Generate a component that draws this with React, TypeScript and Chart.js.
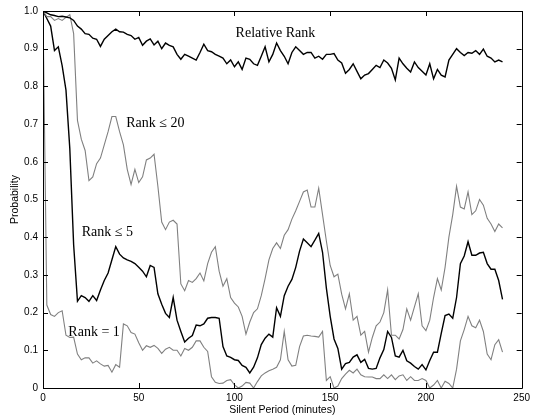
import React, { useEffect, useRef } from "react";
import { Chart, registerables } from "chart.js";

Chart.register(...registerables);

// sample times (minutes), every 2 minutes from 0 to 240
const TIME_STEP = 2;

const relativeRank = [
  1.0, 0.995, 0.99, 0.988, 0.985, 0.986, 0.984, 0.982, 0.975, 0.96,
  0.952, 0.94, 0.938, 0.928, 0.925, 0.906, 0.925, 0.935, 0.945, 0.952,
  0.945, 0.944, 0.938, 0.935, 0.925, 0.93, 0.909, 0.92, 0.926, 0.91,
  0.92, 0.9, 0.915, 0.909, 0.905, 0.885, 0.872, 0.885, 0.88, 0.875,
  0.87, 0.89, 0.912, 0.895, 0.892, 0.885, 0.88, 0.875, 0.86, 0.87,
  0.852, 0.865, 0.845, 0.875, 0.872, 0.86, 0.856, 0.88, 0.905, 0.865,
  0.885, 0.915, 0.895, 0.88, 0.86, 0.89, 0.905, 0.895, 0.885, 0.89,
  0.89, 0.875, 0.88, 0.872, 0.885, 0.885, 0.887, 0.87, 0.862, 0.835,
  0.845, 0.86, 0.84, 0.82, 0.83, 0.834, 0.845, 0.856, 0.85, 0.87,
  0.862, 0.848, 0.817, 0.875, 0.86, 0.848, 0.838, 0.865, 0.85, 0.84,
  0.83, 0.86, 0.82, 0.845, 0.83, 0.825, 0.87, 0.885, 0.9, 0.89,
  0.882, 0.89, 0.888, 0.895, 0.885, 0.899, 0.88, 0.875, 0.865, 0.87,
  0.865,
];

const rankLe20 = [
  1.0, 0.985, 0.985, 0.975, 0.98, 0.975, 0.983, 0.99, 0.94, 0.71,
  0.66, 0.63, 0.55, 0.56, 0.595, 0.61, 0.645, 0.68, 0.72, 0.72,
  0.68, 0.645, 0.58, 0.54, 0.58, 0.545, 0.56, 0.605, 0.61, 0.62,
  0.535, 0.44, 0.42, 0.44, 0.445, 0.435, 0.276, 0.258, 0.285, 0.28,
  0.29, 0.305, 0.284, 0.33, 0.36, 0.375, 0.31, 0.27, 0.29, 0.24,
  0.225, 0.215, 0.19, 0.143, 0.175, 0.2, 0.21, 0.245, 0.29, 0.34,
  0.37, 0.385, 0.37, 0.405, 0.42, 0.448, 0.47, 0.495, 0.52, 0.525,
  0.48, 0.48, 0.53, 0.46, 0.39, 0.325, 0.295, 0.302, 0.249, 0.21,
  0.25, 0.18, 0.19, 0.14, 0.15, 0.095, 0.134, 0.165, 0.175, 0.2,
  0.26, 0.14, 0.14, 0.13, 0.155, 0.21, 0.18, 0.215, 0.25, 0.165,
  0.152, 0.18, 0.24, 0.29, 0.26, 0.32, 0.4, 0.46, 0.535, 0.48,
  0.475, 0.52, 0.46, 0.47, 0.5, 0.485, 0.45, 0.435, 0.415, 0.435,
  0.425,
];

const rankLe5 = [
  1.0, 0.98, 0.96, 0.895, 0.905, 0.855, 0.79, 0.635, 0.38, 0.23,
  0.245, 0.24, 0.23, 0.245, 0.232, 0.26, 0.285, 0.305, 0.34, 0.375,
  0.355, 0.345, 0.34, 0.336, 0.33, 0.32, 0.31, 0.295, 0.325, 0.32,
  0.25, 0.222, 0.198, 0.187, 0.24, 0.18, 0.15, 0.122, 0.132, 0.139,
  0.167, 0.165, 0.17, 0.185, 0.187, 0.187, 0.185, 0.11, 0.085, 0.081,
  0.075, 0.073, 0.06, 0.055, 0.04, 0.055, 0.08, 0.115, 0.132, 0.143,
  0.135, 0.213, 0.19, 0.245, 0.27, 0.288, 0.32, 0.363, 0.395, 0.385,
  0.375, 0.392, 0.41, 0.36, 0.265, 0.19, 0.13, 0.105, 0.05, 0.065,
  0.068, 0.082, 0.088, 0.068, 0.076, 0.052, 0.05, 0.052, 0.08, 0.102,
  0.15, 0.134, 0.085, 0.082, 0.1, 0.072, 0.066, 0.057, 0.05, 0.062,
  0.048, 0.073, 0.095, 0.095, 0.145, 0.192, 0.196, 0.185, 0.24, 0.33,
  0.35, 0.388, 0.352, 0.352, 0.358, 0.36, 0.33, 0.315, 0.315, 0.285,
  0.235,
];

const rankEq1 = [
  1.0, 0.22, 0.195, 0.19, 0.2, 0.205, 0.14, 0.134, 0.135, 0.09,
  0.075, 0.08, 0.08, 0.066, 0.072, 0.064, 0.058, 0.06, 0.042, 0.062,
  0.055, 0.17, 0.165, 0.147, 0.143, 0.12, 0.1, 0.112, 0.108, 0.113,
  0.105, 0.092, 0.103, 0.108, 0.1, 0.1, 0.085, 0.105, 0.1, 0.108,
  0.125, 0.125, 0.108, 0.097, 0.03, 0.015, 0.012, 0.013, 0.02, 0.022,
  0.008, 0.0, 0.005, 0.015, 0.013, 0.0, 0.017, 0.032, 0.04, 0.046,
  0.05, 0.055, 0.075, 0.15, 0.075, 0.058, 0.06, 0.11, 0.138, 0.14,
  0.138, 0.137, 0.135, 0.15, 0.02, 0.03, 0.0, 0.005, 0.025, 0.037,
  0.047, 0.04, 0.05, 0.035, 0.03, 0.029, 0.029, 0.025, 0.025, 0.035,
  0.025, 0.035, 0.022, 0.032, 0.035, 0.02, 0.03, 0.02, 0.02, 0.025,
  0.02, 0.0, 0.008, 0.02, 0.0, 0.018, 0.012, 0.0, 0.05, 0.125,
  0.155, 0.19, 0.165, 0.16, 0.18, 0.15, 0.09, 0.075, 0.115, 0.128,
  0.095,
];

const xTicks = [0, 50, 100, 150, 200, 250];
const yTicks = [0, 0.1, 0.2, 0.3, 0.4, 0.5, 0.6, 0.7, 0.8, 0.9, 1];

const labelsText = ["Relative Rank", "Rank \u2264 20", "Rank \u2264 5", "Rank = 1"];
const labelsX = [100.6, 43.5, 20.2, 13.25];
const labelsY = [0.93, 0.693, 0.403, 0.139];

const toPoints = (vals: number[]) =>
  vals.map((v, i) => ({ x: i * TIME_STEP, y: v }));

const boxPlugin = {
  id: "boxTicks",
  afterDatasetsDraw(chart: any) {
    const { ctx, chartArea, scales } = chart;
    const { left, right, top, bottom } = chartArea;
    const len = 5;
    ctx.save();
    ctx.strokeStyle = "#000";
    ctx.lineWidth = 1;
    ctx.beginPath();
    ctx.rect(Math.round(left) + 0.5, Math.round(top) + 0.5, Math.round(right - left), Math.round(bottom - top));
    ctx.stroke();
    ctx.beginPath();
    xTicks.forEach((t) => {
      const px = Math.round(scales.x.getPixelForValue(t)) + 0.5;
      ctx.moveTo(px, bottom);
      ctx.lineTo(px, bottom - len);
      ctx.moveTo(px, top);
      ctx.lineTo(px, top + len);
    });
    yTicks.forEach((t) => {
      const py = Math.round(scales.y.getPixelForValue(t)) + 0.5;
      ctx.moveTo(left, py);
      ctx.lineTo(left + len, py);
      ctx.moveTo(right, py);
      ctx.lineTo(right - len, py);
    });
    ctx.stroke();
    ctx.restore();
  },
  afterDraw(chart: any) {
    const { ctx, scales } = chart;
    ctx.save();
    ctx.fillStyle = "#000";
    ctx.font = "14px 'Liberation Serif', 'Times New Roman', serif";
    ctx.textBaseline = "alphabetic";
    ctx.textAlign = "left";
    labelsText.forEach((txt, i) => {
      ctx.fillText(txt, scales.x.getPixelForValue(labelsX[i]), scales.y.getPixelForValue(labelsY[i]));
    });
    ctx.restore();
  },
};

export default function App() {
  const ref = useRef<HTMLCanvasElement>(null);
  useEffect(() => {
    document.body.style.margin = "0";
    const sans = "'Liberation Sans', Arial, Helvetica, sans-serif";
    const chart = new Chart(ref.current as HTMLCanvasElement, {
      type: "line",
      data: {
        datasets: [
          { label: "Relative Rank", data: toPoints(relativeRank), borderColor: "#000", borderWidth: 1.4 },
          { label: "Rank <= 20", data: toPoints(rankLe20), borderColor: "#808080", borderWidth: 1.1 },
          { label: "Rank <= 5", data: toPoints(rankLe5), borderColor: "#000", borderWidth: 1.4 },
          { label: "Rank = 1", data: toPoints(rankEq1), borderColor: "#808080", borderWidth: 1.1 },
        ],
      },
      options: {
        animation: false,
        responsive: false,
        events: [],
        layout: { padding: { left: 0, right: 8, top: 8, bottom: 0 } },
        elements: { point: { radius: 0 }, line: { tension: 0, fill: false } },
        plugins: { legend: { display: false }, tooltip: { enabled: false } },
        scales: {
          x: {
            type: "linear",
            min: 0,
            max: 250,
            afterFit: (s: any) => { s.height = 31; },
            afterBuildTicks: (s: any) => { s.ticks = xTicks.map((v) => ({ value: v })); },
            grid: { display: false, drawTicks: false },
            border: { display: false },
            ticks: { color: "#000", font: { family: sans, size: 10 }, padding: 4, maxRotation: 0 },
            title: { display: true, text: "Silent Period (minutes)", color: "#000", font: { family: sans, size: 10.5 }, padding: { top: 0, bottom: 3 } },
          },
          y: {
            type: "linear",
            min: 0,
            max: 1,
            afterFit: (s: any) => { s.width = 43; },
            afterBuildTicks: (s: any) => { s.ticks = yTicks.map((v) => ({ value: v })); },
            grid: { display: false, drawTicks: false },
            border: { display: false },
            ticks: { color: "#000", font: { family: sans, size: 10 }, padding: 5 },
            title: { display: true, text: "Probability", color: "#000", font: { family: sans, size: 10.5 }, padding: { top: 9, bottom: 0 } },
          },
        },
      },
      plugins: [boxPlugin],
    });
    return () => chart.destroy();
  }, []);
  return (
    <div style={{ position: "absolute", left: 0, top: 0, width: 534, height: 419, background: "#fff" }}>
      <canvas ref={ref} width={534} height={419} />
    </div>
  );
}
